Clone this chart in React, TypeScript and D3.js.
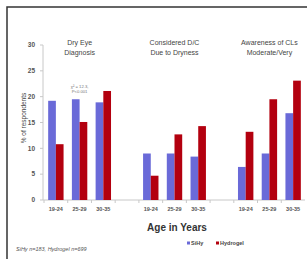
import { useEffect, useRef } from 'react';
import * as d3 from 'd3';

const GROUPS = [
  ['Dry Eye', 'Diagnosis'],
  ['Considered D/C', 'Due to Dryness'],
  ['Awareness of CLs', 'Moderate/Very'],
];
const AGES = ['19-24', '25-29', '30-35'];
const SIHY = [19.2, 19.5, 18.9, 9.0, 9.0, 8.4, 6.4, 9.0, 16.8];
const HYDROGEL = [10.8, 15.1, 21.1, 4.7, 12.7, 14.3, 13.2, 19.5, 23.1];
const Y_TICKS = [0, 5, 10, 15, 20, 25, 30];

const BLUE = '#6a6ad8';
const RED = '#b3000f';

export default function App() {
  const svgRef = useRef<SVGSVGElement>(null);

  useEffect(() => {
    const el = svgRef.current;
    if (!el) return;
    const svg = d3.select(el);
    svg.selectAll('*').remove();

    const W = 307;
    const H = 259;
    svg.attr('width', W).attr('height', H);

    // slide frame
    svg.append('path')
      .attr('d', `M7,${H} L7,7 L${W},7`)
      .attr('fill', 'none')
      .attr('stroke', '#333')
      .attr('stroke-width', 1.5);

    // 11 slots: 3 per group with an empty slot between groups
    const slots = d3.range(11).map(String);
    const x = d3.scaleBand().domain(slots).range([44, 305]).padding(0);
    const y = d3.scaleLinear().domain([0, 30]).range([200, 45]);
    const slotOf = (i: number) => String(Math.floor(i / 3) * 4 + (i % 3));
    const bw = 7.7;

    // y axis
    svg.append('line')
      .attr('x1', 43).attr('x2', 43).attr('y1', y(30)).attr('y2', y(0))
      .attr('stroke', '#c8c8c8').attr('stroke-width', 1);
    Y_TICKS.forEach((t) => {
      svg.append('line')
        .attr('x1', 40).attr('x2', 43).attr('y1', y(t)).attr('y2', y(t))
        .attr('stroke', '#c8c8c8');
      svg.append('text')
        .attr('x', 35).attr('y', y(t) + 2.3)
        .attr('text-anchor', 'end')
        .attr('font-size', '6.5px').attr('font-weight', '700')
        .attr('fill', '#555').attr('font-family', 'Arial, "Liberation Sans", sans-serif')
        .text(t);
    });
    svg.append('text')
      .attr('transform', `translate(25.5,118) rotate(-90)`)
      .attr('text-anchor', 'middle')
      .attr('font-size', '6.5px')
      .attr('fill', '#444').attr('font-family', 'Arial, "Liberation Sans", sans-serif')
      .text('% of respondents');

    // x axis
    svg.append('line')
      .attr('x1', 43).attr('x2', 305).attr('y1', y(0)).attr('y2', y(0))
      .attr('stroke', '#c8c8c8');
    slots.forEach((s) => {
      const bx = x(s) || 0;
      svg.append('line')
        .attr('x1', bx).attr('x2', bx).attr('y1', y(0)).attr('y2', y(0) + 3)
        .attr('stroke', '#c8c8c8');
    });

    // bars
    SIHY.forEach((v, i) => {
      const cx = (x(slotOf(i)) || 0) + x.bandwidth() / 2;
      svg.append('rect')
        .attr('x', cx - bw).attr('y', y(v))
        .attr('width', bw).attr('height', y(0) - y(v))
        .attr('fill', BLUE);
      svg.append('rect')
        .attr('x', cx).attr('y', y(HYDROGEL[i]))
        .attr('width', bw).attr('height', y(0) - y(HYDROGEL[i]))
        .attr('fill', RED);
      svg.append('text')
        .attr('x', cx).attr('y', 211)
        .attr('text-anchor', 'middle')
        .attr('font-size', '5.5px').attr('font-weight', '700')
        .attr('fill', '#555').attr('font-family', 'Arial, "Liberation Sans", sans-serif')
        .text(AGES[i % 3]);
    });

    // group titles
    GROUPS.forEach((lines, g) => {
      const cx = (x(String(g * 4 + 1)) || 0) + x.bandwidth() / 2;
      lines.forEach((line, k) => {
        svg.append('text')
          .attr('x', cx).attr('y', 45 + k * 10)
          .attr('text-anchor', 'middle')
          .attr('font-size', '7px')
          .attr('fill', '#444').attr('font-family', 'Arial, "Liberation Sans", sans-serif')
          .text(line);
      });
    });

    // chi-square note above 25-29
    const nx = (x('1') || 0) + x.bandwidth() / 2;
    ['χ² = 12.3,', 'P<0.001'].forEach((t, k) => {
      svg.append('text')
        .attr('x', nx).attr('y', 88 + k * 5)
        .attr('text-anchor', 'middle')
        .attr('font-size', '4.2px')
        .attr('fill', '#777').attr('font-family', 'Arial, "Liberation Sans", sans-serif')
        .text(t);
    });

    // x title
    svg.append('text')
      .attr('x', 177).attr('y', 231)
      .attr('text-anchor', 'middle')
      .attr('font-size', '10px').attr('font-weight', '700')
      .attr('fill', '#333').attr('font-family', 'Arial, "Liberation Sans", sans-serif')
      .text('Age in Years');

    // legend
    [
      { label: 'SiHy', color: BLUE, x: 187 },
      { label: 'Hydrogel', color: RED, x: 216 },
    ].forEach((d) => {
      svg.append('rect')
        .attr('x', d.x).attr('y', 241.5).attr('width', 3).attr('height', 3)
        .attr('fill', d.color);
      svg.append('text')
        .attr('x', d.x + 4).attr('y', 245)
        .attr('font-size', '5.5px').attr('font-weight', '700')
        .attr('fill', '#444').attr('font-family', 'Arial, "Liberation Sans", sans-serif')
        .text(d.label);
    });

    // footnote
    svg.append('text')
      .attr('x', 16).attr('y', 251)
      .attr('font-size', '5.5px').attr('font-style', 'italic')
      .attr('fill', '#555').attr('font-family', 'Arial, "Liberation Sans", sans-serif')
      .text('SiHy n=183, Hydrogel n=699');
  }, []);

  return (
    <svg
      ref={svgRef}
      style={{ position: 'absolute', left: 0, top: 0, background: '#fff' }}
      width={307}
      height={259}
    />
  );
}
